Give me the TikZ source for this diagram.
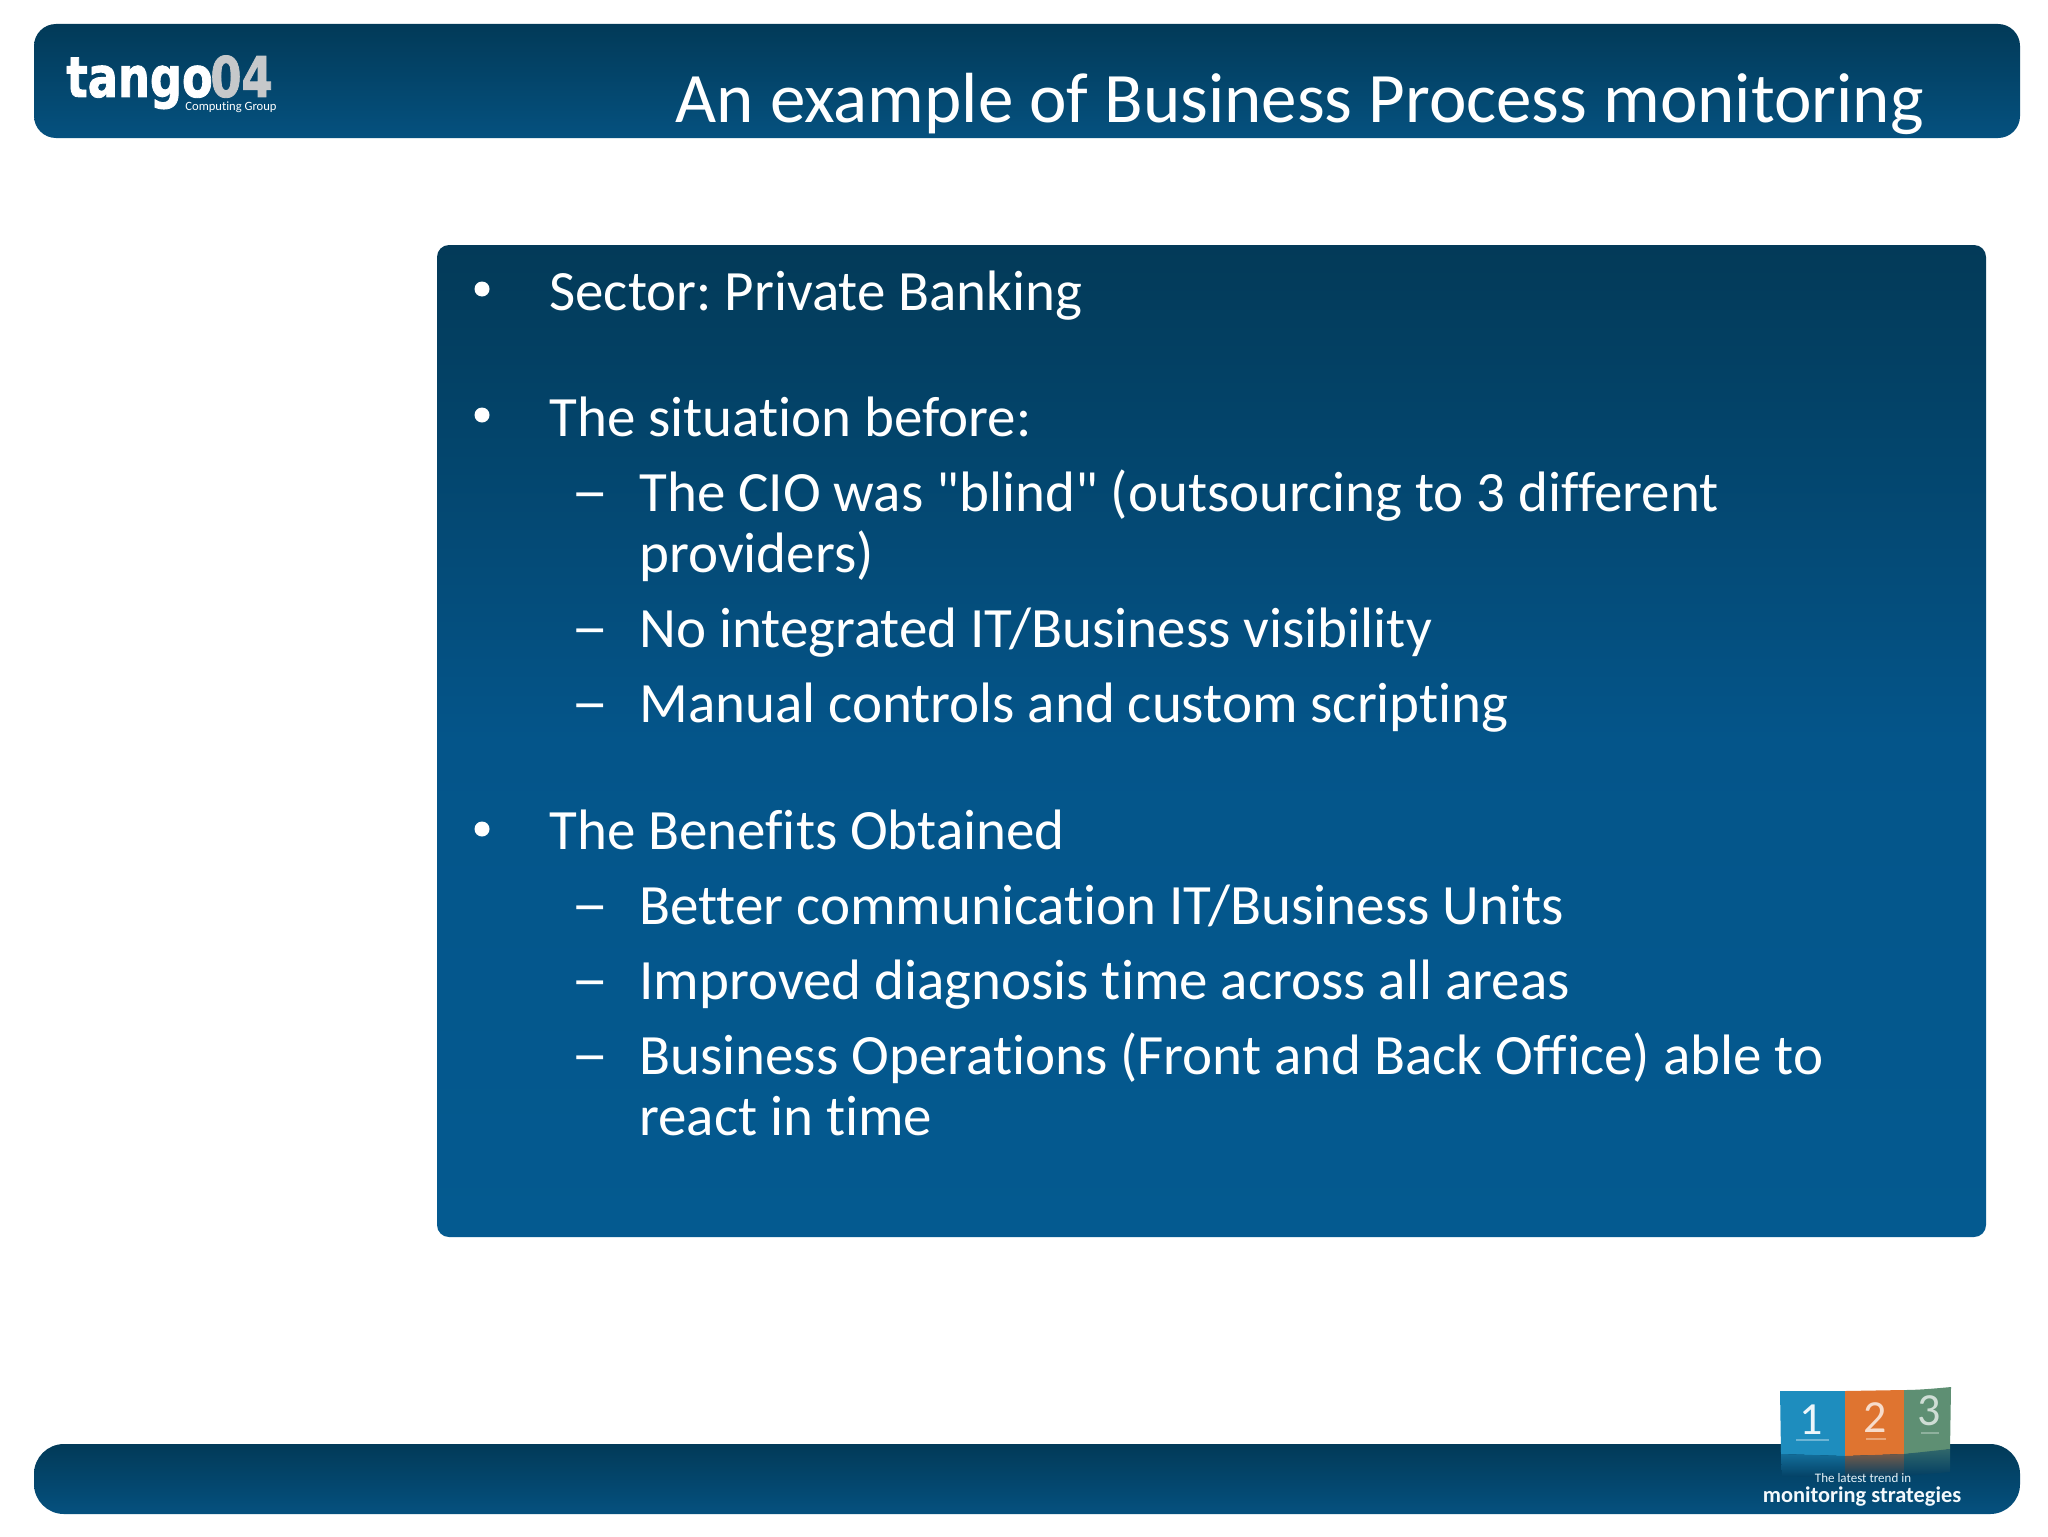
\documentclass[tikz,border=0pt]{standalone}
\usepackage{fontspec}
\newfontfamily\bodyfont[Ligatures=NoCommon]{Carlito}
\newfontfamily\logofont[FakeBold=1.6]{DejaVu Sans Bold}
\usetikzlibrary{calc}
\definecolor{bandtop}{HTML}{023A58}
\definecolor{bandbot}{HTML}{05517F}
\definecolor{paneltop}{HTML}{033A58}
\definecolor{panelmid}{HTML}{04558A}
\definecolor{panelbot}{HTML}{045A90}
\definecolor{tileblue}{HTML}{1E8DBE}
\definecolor{tileorange}{HTML}{DF7430}
\definecolor{tilegreen}{HTML}{5E8F73}
\definecolor{footdark}{HTML}{033F63}
\definecolor{logogrey}{HTML}{C6C8CA}
\tikzset{
  x=0.5pt,y=-0.5pt,
  band/.style={top color=bandtop,bottom color=bandbot,draw=none},
  panelbox/.style={top color=paneltop,bottom color=panelbot,middle color=panelmid,draw=none},
  lvlone/.style={anchor=base west,inner sep=0pt,text=white,font=\bodyfont\fontsize{28.5}{34}\selectfont},
  lvltwo/.style={anchor=base west,inner sep=0pt,text=white,font=\bodyfont\fontsize{28.5}{34}\selectfont},
  bulletmark/.style={circle,fill=white,draw=none,minimum size=7.5pt,inner sep=0pt},
  dashmark/.style={anchor=base,inner sep=0pt,text=white,font=\bodyfont\fontsize{30}{34}\selectfont},
  tilenum/.style={anchor=base,inner sep=0pt,font=\bodyfont\fontsize{23}{24}\selectfont},
}
\begin{document}
\begin{tikzpicture}
\useasboundingbox (0,0) rectangle (2048,1536);
\fill[white] (0,0) rectangle (2048,1536);
% header
\shade[band,rounded corners=11pt] (34,24) rectangle (2020,138);
% footer
\shade[band,rounded corners=15pt] (34,1444) rectangle (2020,1514);
% panel
\shade[panelbox,rounded corners=6pt] (437,245) rectangle (1986,1237);
% title
\node[anchor=base east,inner sep=0pt,text=white,font=\bodyfont\fontsize{35.5}{40}\selectfont] (title) at (1924,122) {An example of Business Process monitoring};
% logo
\node[anchor=base west,inner sep=0pt,text=white,font=\logofont\fontsize{28}{30}\selectfont] (logoa) at (66,97) {\scalebox{0.8}[1]{tango}};
\node[anchor=base west,inner sep=0pt,text=logogrey,font=\logofont\fontsize{28}{30}\selectfont] (logob) at (210,97) {\scalebox{0.8}[1]{04}};
\node[anchor=base east,inner sep=0pt,text=white,font=\bodyfont\fontsize{6.3}{7}\selectfont] (logoc) at (277,111) {Computing Group};
% bullets
\node[bulletmark] (b1) at (482,289) {};
\node[bulletmark] (b2) at (482,415) {};
\node[bulletmark] (b3) at (482,829) {};
\node[lvlone] (t1) at (549,310) {Sector:\kern0pt\ Private Banking};
\node[lvlone] (t2) at (549,436) {The situation before:};
\node[lvltwo] (t3) at (639,511) {The CIO was "blind" (outsourcing to 3 different};
\node[lvltwo] (t4) at (639,572) {providers)};
\node[lvltwo] (t5) at (639,647) {No integrated IT/Business visibility};
\node[lvltwo] (t6) at (639,722) {Manual controls and custom scripting};
\node[lvlone] (t7) at (549,849) {The Benefits Obtained};
\node[lvltwo] (t8) at (639,924) {Better communication IT/Business Units};
\node[lvltwo] (t9) at (639,999) {Improved diagnosis time across all areas};
\node[lvltwo] (t10) at (639,1074) {Business Operations (Front and Back Office) able to};
\node[lvltwo] (t11) at (639,1135) {react in time};
\foreach \yy/\nm in {511/d1,647/d2,722/d3,924/d4,999/d5,1074/d6}{
  \node[dashmark] (\nm) at (590,\yy) {\scalebox{1.25}[1]{–}};
}
% 1-2-3 tiles
\fill[tileblue] (1780,1391) -- (1845,1391) -- (1845,1456) -- (1781,1454) -- cycle;
\fill[tileorange] (1845,1391) -- (1904,1390) -- (1904,1454) -- (1845,1456) -- cycle;
\fill[tilegreen] (1904,1390) .. controls (1920,1390) and (1940,1388) .. (1951,1387) -- (1950,1449) .. controls (1935,1452) and (1920,1453) .. (1904,1454) -- cycle;
\shade[top color=tileblue!60!footdark,bottom color=footdark] (1781,1454) -- (1845,1456) -- (1845,1478) -- (1782,1476) -- cycle;
\shade[top color=tileorange!50!footdark,bottom color=footdark] (1845,1456) -- (1904,1454) -- (1904,1476) -- (1845,1478) -- cycle;
\shade[top color=tilegreen!50!footdark,bottom color=footdark] (1904,1454) -- (1950,1449) -- (1950,1472) -- (1904,1476) -- cycle;
\node[tilenum,text=white!92!tileblue] (n1) at (1811,1434) {1};
\node[tilenum,text=white!75!tileorange] (n2) at (1875,1432) {2};
\node[tilenum,text=white!70!tilegreen] (n3) at (1929,1425) {3};
\fill[white!35!tileblue] (1796,1439) rectangle (1829,1441);
\fill[white!35!tileorange] (1866,1438) rectangle (1886,1440);
\fill[white!30!tilegreen] (1921,1432) rectangle (1939,1434);
\node[anchor=base,inner sep=0pt,text=white!90!tileblue,font=\bodyfont\fontsize{6.5}{7}\selectfont] (tr) at (1863,1482) {The latest trend in};
\node[anchor=base,inner sep=0pt,text=white!95!tileblue,font=\bodyfont\bfseries\fontsize{11.2}{13}\selectfont] (ms) at (1862,1502) {monitoring strategies};
\end{tikzpicture}
\end{document}
